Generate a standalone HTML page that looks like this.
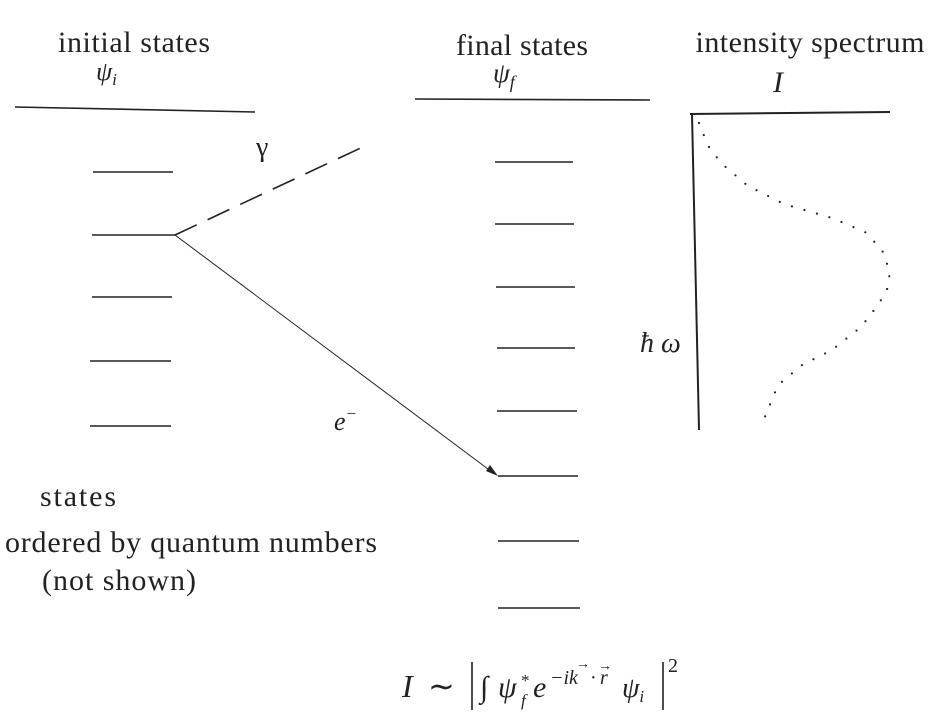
<!DOCTYPE html>
<html><head><style>body{margin:0;background:#fff}svg{display:block}text{font-family:"Liberation Serif",serif;fill:#222}</style></head><body>
<svg width="950" height="718" viewBox="0 0 950 718">
<g stroke="#222" stroke-width="1.6" fill="none">
<line x1="15" y1="107" x2="255" y2="112"/>
<line x1="93" y1="172" x2="173" y2="172"/>
<line x1="92" y1="235" x2="175" y2="235"/>
<line x1="92" y1="297" x2="172" y2="297"/>
<line x1="90" y1="361" x2="171" y2="361"/>
<line x1="90" y1="426" x2="171" y2="426"/>
<line x1="415" y1="99" x2="650" y2="100"/>
<line x1="495" y1="162" x2="573" y2="162"/>
<line x1="495" y1="224" x2="574" y2="224"/>
<line x1="496" y1="287" x2="575" y2="287"/>
<line x1="497" y1="348" x2="575" y2="348"/>
<line x1="497" y1="411" x2="577" y2="411"/>
<line x1="498" y1="476" x2="578" y2="476"/>
<line x1="498" y1="541" x2="579" y2="541"/>
<line x1="498" y1="608" x2="580" y2="608"/>
<line x1="175" y1="235" x2="367" y2="145" stroke-dasharray="24,12"/>
<line x1="175" y1="235" x2="492" y2="472" stroke-width="1"/>
<line x1="690" y1="114" x2="890" y2="112" stroke-width="2"/>
<line x1="692" y1="114" x2="699" y2="430" stroke-width="2"/>
<polyline points="699,123 702,131 709,147 721,163 748,186 784,204 832,218 865,232 882,250 890,272 887,290 878,305 861,327 832,350 802,365 778,385 762,424" stroke-width="2.2" stroke-linecap="round" stroke-dasharray="0,13"/>
</g>
<polygon points="498,476 486,471 490,465" fill="#222"/>
<g font-size="30">
<text x="134" y="52" text-anchor="middle" textLength="152">initial states</text>
<text x="96" y="80" font-style="italic" font-size="26">ψ<tspan font-size="17" dy="5">i</tspan></text>
<text x="522" y="55" text-anchor="middle" textLength="132">final states</text>
<text x="493" y="82" font-style="italic" font-size="27">ψ<tspan font-size="18" dy="6">f</tspan></text>
<text x="810" y="52" text-anchor="middle" textLength="229">intensity spectrum</text>
<text x="778" y="92" font-style="italic" text-anchor="middle">I</text>
<text x="256" y="156" font-size="28">γ</text>
<text x="334" y="430" font-style="italic" font-size="26">e<tspan font-size="17" dy="-11">−</tspan></text>
<text x="640" y="352" font-style="italic" font-size="28">ħ ω</text>
<text x="78" y="506" text-anchor="middle" textLength="76">states</text>
<text x="191" y="552" text-anchor="middle" textLength="372">ordered by quantum numbers</text>
<text x="119" y="590" text-anchor="middle" textLength="154">(not shown)</text>
<text x="402" y="697" font-style="italic" font-size="32">I</text>
<text x="428" y="697" font-size="32">∼</text>
<line x1="472" y1="662" x2="472" y2="710" stroke="#222" stroke-width="1.6"/>
<text x="480" y="697" font-size="30">∫</text>
<text x="498" y="697" font-style="italic" font-size="30">ψ</text>
<text x="521" y="686" font-size="17">*</text>
<text x="521" y="706" font-style="italic" font-size="17">f</text>
<text x="533" y="697" font-style="italic" font-size="30">e</text>
<text x="550" y="684" font-style="italic" font-size="20">−ik</text>
<text x="576" y="668" font-size="14">→</text>
<text x="590" y="684" font-size="20">·</text>
<text x="600" y="684" font-style="italic" font-size="20">r</text>
<text x="598" y="670" font-size="14">→</text>
<text x="622" y="697" font-style="italic" font-size="28">ψ<tspan font-size="17" dy="5">i</tspan></text>
<line x1="663" y1="662" x2="663" y2="710" stroke="#222" stroke-width="1.6"/>
<text x="668" y="672" font-size="20">2</text>
</g>
</svg>
</body></html>
